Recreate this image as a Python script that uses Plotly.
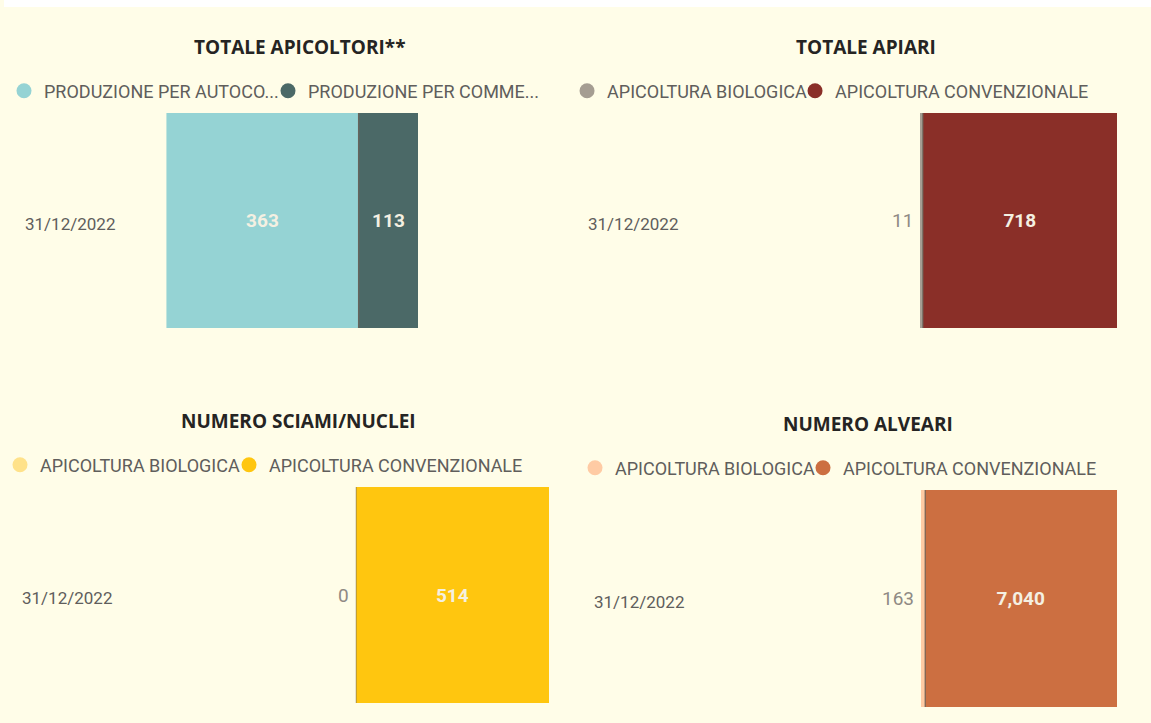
import plotly.graph_objects as go

W, H = 1151, 723
BG = "#FFFDE8"

category = ["31/12/2022"]

titles = ["TOTALE APICOLTORI**", "TOTALE APIARI", "NUMERO SCIAMI/NUCLEI", "NUMERO ALVEARI"]

names_tl = ["PRODUZIONE PER AUTOCO...", "PRODUZIONE PER COMME..."]
names_bio = ["APICOLTURA BIOLOGICA", "APICOLTURA CONVENZIONALE"]

apicoltori = [363, 113]
apiari = [11, 718]
sciami = [0, 514]
alveari = [163, 7040]

colors = [
    ["#95D3D4", "#4B6967"],
    ["#A59D92", "#8A2F28"],
    ["#FFE28A", "#FFC60F"],
    ["#FFCBA4", "#CC6F41"],
]

panels = [
    dict(values=apicoltori, names=names_tl, title=titles[0]),
    dict(values=apiari, names=names_bio, title=titles[1]),
    dict(values=sciami, names=names_bio, title=titles[2]),
    dict(values=alveari, names=names_bio, title=titles[3]),
]

# layout geometry in pixels (left, right, top, bottom of plot area), axis max
geo = [
    dict(x0=163, x1=560, y0=113, y1=328, xmax=747, title_xy=(297, 47), leg_xy=(42, 91), entry=219, lab_x=113),
    dict(x0=919, x1=1140, y0=113, y1=328, xmax=814, title_xy=(865, 47), leg_xy=(607, 91), entry=183, lab_x=678),
    dict(x0=353, x1=560, y0=487, y1=703, xmax=550, title_xy=(296, 421), leg_xy=(38, 465), entry=184, lab_x=110),
    dict(x0=920, x1=1140, y0=490, y1=707, xmax=8044, title_xy=(867, 424), leg_xy=(615, 468), entry=183, lab_x=684),
]

fig = go.Figure()
annotations = []
shapes = [dict(type="rect", xref="paper", yref="paper", x0=0, x1=1,
               y0=1 - 7 / H, y1=1, fillcolor="white", line=dict(width=0), layer="below")]
layout_extra = {}

for i, (p, g) in enumerate(zip(panels, geo)):
    n = "" if i == 0 else str(i + 1)
    xa, ya = "x" + n, "y" + n
    leg = "legend" if i == 0 else "legend" + str(i + 1)
    vals = p["values"]
    total = sum(vals)
    for j, (v, nm) in enumerate(zip(vals, p["names"])):
        inside = v / total > 0.05
        fig.add_trace(go.Bar(
            y=category, x=[v], orientation="h", name=nm,
            marker=dict(color=colors[i][j], line=dict(width=0)),
            text=[f"{v:,}"] if inside else None,
            textposition="inside", insidetextanchor="middle",
            textfont=dict(family="Roboto", size=19, color="#F4F0E2", weight="bold"),
            xaxis=xa, yaxis=ya, showlegend=False, width=1,
            hoverinfo="x+name",
        ))
        if not inside:
            annotations.append(dict(
                x=0, y=category[0], xref=xa, yref=ya, text=f"{v:,}",
                showarrow=False, xanchor="right", xshift=-5,
                font=dict(family="Roboto", size=19, color="#8F8A84"),
            ))
        # legend proxy with circular symbol
        fig.add_trace(go.Scatter(
            x=[None], y=[None], mode="markers", name=nm,
            marker=dict(color=colors[i][j], size=15, symbol="circle"),
            xaxis=xa, yaxis=ya, legend=leg, showlegend=True,
            legendwidth=g["entry"] if j == 0 else 300,
        ))
    # thin separator at the start of the second segment
    shapes.append(dict(
        type="line", xref=xa, yref=ya + " domain", x0=vals[0], x1=vals[0], y0=0, y1=1,
        line=dict(color="rgba(110,100,90,0.75)", width=1.5),
    ))
    layout_extra["xaxis" + n] = dict(
        domain=[g["x0"] / W, g["x1"] / W], range=[0, g["xmax"]],
        visible=False, anchor=ya, fixedrange=True,
    )
    layout_extra["yaxis" + n] = dict(
        domain=[1 - g["y1"] / H, 1 - g["y0"] / H], range=[-0.5, 0.5],
        type="category", visible=False, anchor=xa, fixedrange=True,
    )
    layout_extra[leg] = dict(
        orientation="h", x=(g["leg_xy"][0] - 42) / W, y=1 - g["leg_xy"][1] / H,
        xanchor="left", yanchor="middle", bgcolor="rgba(0,0,0,0)",
        font=dict(family="Roboto", size=18, color="#605E5C"),
        itemwidth=30, entrywidthmode="pixels",
        traceorder="normal", itemclick=False, itemdoubleclick=False,
    )
    annotations.append(dict(
        x=g["title_xy"][0] / W, y=1 - g["title_xy"][1] / H, xref="paper", yref="paper",
        text=p["title"], showarrow=False, xanchor="center", yanchor="middle",
        font=dict(family="Open Sans", size=19, color="#252423", weight="bold"),
    ))
    annotations.append(dict(
        x=g["lab_x"] / W, y=category[0], xref="paper", yref=ya,
        text=category[0], showarrow=False, xanchor="right", yanchor="middle", yshift=-3,
        font=dict(family="Roboto", size=17, color="#605E5C"),
    ))

fig.update_layout(
    width=W, height=H, margin=dict(l=0, r=0, t=0, b=0),
    paper_bgcolor=BG, plot_bgcolor=BG,
    barmode="stack", bargap=0,
    annotations=annotations,
    shapes=shapes,
    **layout_extra,
)

fig.write_html("out.html", config={"displayModeBar": False},
               post_script="document.body.style.margin='0';")
